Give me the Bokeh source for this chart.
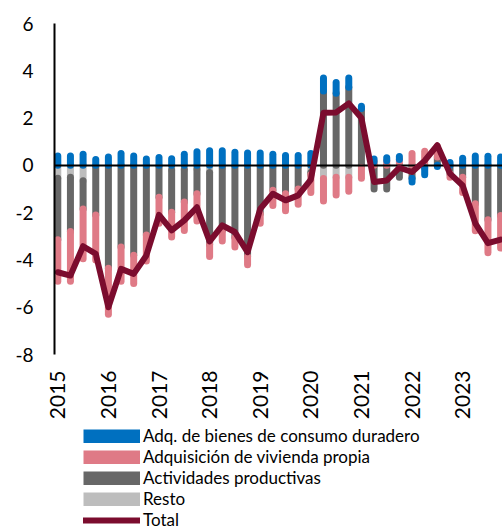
import numpy as np
from bokeh.plotting import figure
from bokeh.layouts import column
from bokeh.models import ColumnDataSource, Legend, LegendItem, FixedTicker, Range1d
from bokeh.embed import file_html
from bokeh.resources import INLINE

# ---- data (quarterly, 2015T1 .. 2023T4) ----
year_labels = ["2015", "2016", "2017", "2018", "2019", "2020", "2021", "2022", "2023"]
quarters_per_year = 4

consumo = [0.40, 0.40, 0.47, 0.25, 0.35, 0.50, 0.40, 0.27, 0.33, 0.28, 0.47, 0.58,
           0.62, 0.62, 0.55, 0.52, 0.52, 0.47, 0.42, 0.42, 0.50, 0.55, 0.45, 0.40,
           0.10, 0.12, 0.12, 0.12, -0.15, -0.30, -0.05, 0.12, 0.30, 0.40, 0.38, 0.35]
vivienda = [-1.75, -2.10, -2.10, -1.90, -1.95, -1.45, -1.20, -1.10, -1.10, -1.05, -1.20, -1.15,
            -0.50, -0.45, -0.40, -0.35, -0.40, -0.65, -0.72, -0.65, -0.75, -0.95, -0.75, -0.60,
            -0.45, 0.15, 0.20, 0.25, 0.50, 0.60, 0.45, -0.15, -0.65, -1.15, -1.40, -1.38]
actividades = [-2.60, -2.30, -1.20, -2.05, -4.35, -3.45, -3.80, -2.95, -1.30, -1.78, -1.37, -1.05,
               -3.05, -2.65, -3.00, -3.70, -2.00, -1.00, -1.15, -0.95, -0.10, 3.15, 3.05, 3.30,
               2.40, -1.00, -1.00, -0.50, -0.55, -0.10, 0.35, -0.35, -0.50, -1.62, -2.30, -2.12]
resto = [-0.55, -0.50, -0.65, -0.05, 0.00, 0.00, 0.00, 0.00, -0.05, -0.20, -0.18, -0.15,
         -0.30, -0.10, -0.05, -0.15, -0.05, -0.05, -0.05, -0.05, -0.30, -0.56, -0.50, -0.50,
         -0.10, 0.00, 0.00, 0.00, 0.00, 0.00, 0.00, 0.00, 0.00, 0.00, 0.00, 0.00]
total = [-4.52, -4.66, -3.42, -3.74, -6.00, -4.38, -4.59, -3.81, -2.09, -2.75, -2.33, -1.77,
         -3.22, -2.54, -2.82, -3.67, -1.84, -1.20, -1.48, -1.27, -0.60, 2.22, 2.24, 2.62,
         2.00, -0.70, -0.64, -0.10, -0.28, 0.20, 0.85, -0.35, -0.85, -2.45, -3.29, -3.14]
y_ticks = [-8, -6, -4, -2, 0, 2, 4, 6]

names = ["Adq. de bienes de consumo duradero", "Adquisición de vivienda propia",
         "Actividades productivas", "Resto", "Total"]
colors = {"consumo": "#0070C0", "vivienda": "#DF7A86", "actividades": "#676767",
          "resto": "#BDBDBD", "total": "#7B0C2E"}

FONT = "Lato"
x = np.arange(len(total))

p = figure(width=502, height=424, output_backend="svg", toolbar_location=None,
           x_range=Range1d(-0.26, 35.15), y_range=Range1d(-8, 6),
           min_border_left=54, min_border_right=0, min_border_top=23, min_border_bottom=70)
p.xgrid.visible = False
p.ygrid.visible = False
p.outline_line_color = None

# stacked bars (thick round-capped segments): resto, actividades, vivienda, consumo
series = [("resto", resto), ("actividades", actividades), ("vivienda", vivienda), ("consumo", consumo)]
pos_base = np.zeros(len(x))
neg_base = np.zeros(len(x))
for key, vals in series:
    v = np.array(vals, dtype=float)
    y0 = np.where(v >= 0, pos_base, neg_base)
    y1 = y0 + v
    pos_base = np.where(v >= 0, y1, pos_base)
    neg_base = np.where(v < 0, y1, neg_base)
    m = np.abs(v) > 1e-6
    src = ColumnDataSource(dict(x=x[m], y0=y0[m], y1=y1[m]))
    p.segment(x0="x", y0="y0", x1="x", y1="y1", source=src,
              line_color=colors[key], line_width=7, line_cap="round")

# zero line above bars, below total line
p.hspan(y=[0], line_color="black", line_width=2)

p.line(x, total, line_color=colors["total"], line_width=6, line_join="round", line_cap="round")

# y axis
p.yaxis.ticker = FixedTicker(ticks=y_ticks)
p.yaxis.major_label_overrides = {t: str(t) for t in y_ticks}
p.yaxis.major_tick_line_color = None
p.yaxis.major_tick_out = 0
p.yaxis.major_tick_in = 0
p.yaxis.minor_tick_line_color = None
p.yaxis.axis_line_color = "black"
p.yaxis.axis_line_width = 2
p.yaxis.major_label_standoff = 21
p.yaxis.major_label_text_font = FONT
p.yaxis.major_label_text_font_size = "19px"
p.yaxis.major_label_text_color = "black"

# x axis
year_pos = [i * quarters_per_year for i in range(len(year_labels))]
p.xaxis.ticker = FixedTicker(ticks=year_pos)
p.xaxis.major_label_overrides = {pos: lab for pos, lab in zip(year_pos, year_labels)}
p.xaxis.major_label_orientation = np.pi / 2
p.xaxis.axis_line_color = None
p.xaxis.major_tick_line_color = None
p.xaxis.major_tick_out = 0
p.xaxis.major_tick_in = 0
p.xaxis.minor_tick_line_color = None
p.xaxis.major_label_standoff = 16
p.xaxis.major_label_text_font = FONT
p.xaxis.major_label_text_font_size = "21px"
p.xaxis.major_label_text_color = "black"

# legend in its own strip below the chart (frame aligned with the chart's frame)
p2 = figure(width=502, height=106, output_backend="svg", toolbar_location=None,
            x_range=Range1d(0, 1), y_range=Range1d(0, 1), min_border=0,
            x_axis_location=None, y_axis_location=None)
p2.grid.visible = False
p2.outline_line_color = None
proxies = []
for key in ["consumo", "vivienda", "actividades", "resto"]:
    proxies.append(p2.line([np.nan, np.nan], [np.nan, np.nan], line_color=colors[key],
                           line_width=14, line_cap="butt"))
proxies.append(p2.line([np.nan, np.nan], [np.nan, np.nan], line_color=colors["total"],
                       line_width=6, line_cap="round"))

legend = Legend(items=[LegendItem(label=n, renderers=[r]) for n, r in zip(names, proxies)],
                location=(29, 0), orientation="vertical",
                glyph_width=57, glyph_height=14, label_height=18, spacing=0,
                padding=0, margin=0, label_standoff=3,
                border_line_color=None, background_fill_alpha=0,
                label_text_font=FONT, label_text_font_size="17px", label_text_color="black")
p2.add_layout(legend)

layout = column(p, p2, spacing=0)
open("out.html", "w").write(file_html(layout, INLINE))
